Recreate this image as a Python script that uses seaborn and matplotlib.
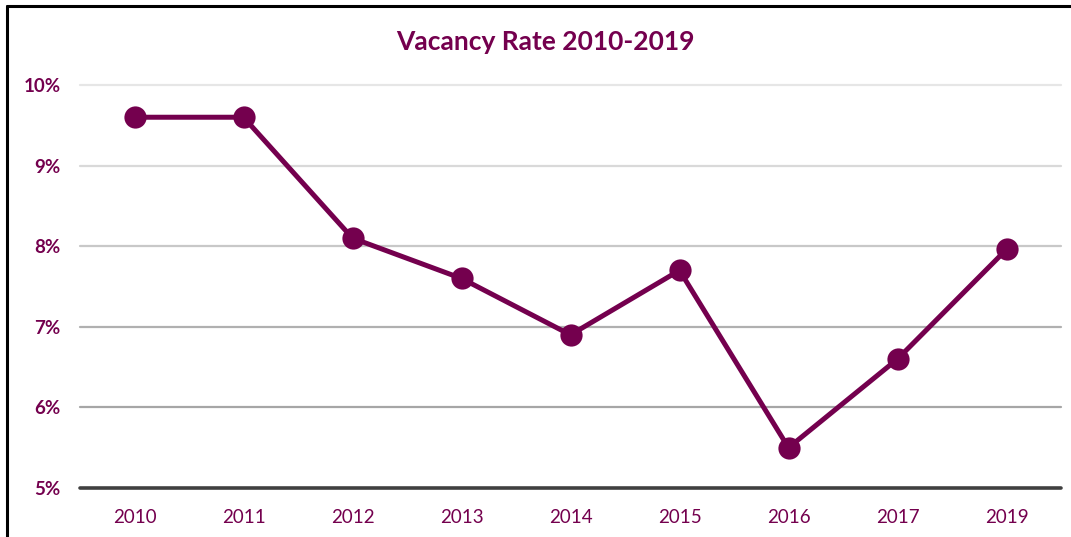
import matplotlib
matplotlib.use("Agg")
import matplotlib.pyplot as plt
import seaborn as sns
import pandas as pd
from matplotlib.lines import Line2D
from matplotlib.ticker import FuncFormatter

years = ["2010", "2011", "2012", "2013", "2014", "2015", "2016", "2017", "2019"]
vacancy = [9.6, 9.6, 8.1, 7.6, 6.9, 7.7, 5.5, 6.6, 7.96]
yticks = [5, 6, 7, 8, 9, 10]
grid_colors = ["#404040", "#a6a6a6", "#b0b0b0", "#c8c8c8", "#d9d9d9", "#e6e6e6"]

COLOR = "#74004e"

sns.set_theme(style="white")
plt.rcParams["font.family"] = ["Lato", "DejaVu Sans"]

df = pd.DataFrame({"year": years, "rate": vacancy})

fig = plt.figure(figsize=(10.71, 5.37), dpi=100)
ax = fig.add_axes([80 / 1071, 1 - 488 / 537, (1061 - 80) / 1071, (488 - 85) / 537])

for v, c in zip(yticks, grid_colors):
    ax.axhline(v, color=c, lw=2.6 if v == 5 else 1.6, zorder=1, clip_on=False)

sns.lineplot(data=df, x="year", y="rate", ax=ax, color=COLOR, lw=3.6,
             marker="o", markersize=16, markeredgewidth=0, sort=False, zorder=3)

ax.set_xlim(-0.5, len(years) - 0.5)
ax.set_ylim(5, 10)
ax.set_yticks(yticks)
ax.yaxis.set_major_formatter(FuncFormatter(lambda v, p: f"{int(v)}%"))
ax.set_xlabel("")
ax.set_ylabel("")
for s in ax.spines.values():
    s.set_visible(False)
ax.tick_params(axis="both", length=0)
ax.tick_params(axis="y", pad=14, labelsize=13.5, labelcolor=COLOR)
ax.tick_params(axis="x", pad=15, labelsize=13.5, labelcolor=COLOR)
for t in ax.get_yticklabels():
    t.set_fontweight("bold")

fig.text(545 / 1071, 1 - 42 / 537, "Vacancy Rate 2010-2019", ha="center", va="center",
         fontsize=19, fontweight="bold", color=COLOR)

# frame border (left and top)
fig.add_artist(Line2D([7 / 1071, 7 / 1071], [0, 1 - 6 / 537], color="black", lw=2.2,
                      transform=fig.transFigure))
fig.add_artist(Line2D([7 / 1071, 1], [1 - 6 / 537, 1 - 6 / 537], color="black", lw=2.2,
                      transform=fig.transFigure))

fig.savefig("out.png", dpi=100, facecolor="white")
